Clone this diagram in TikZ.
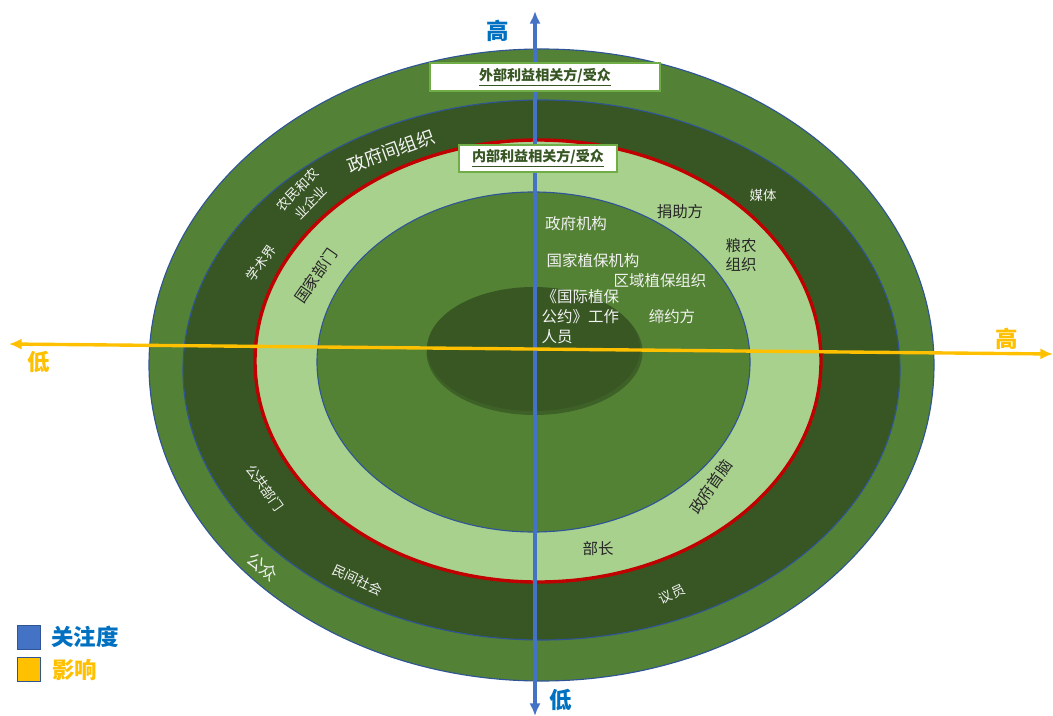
\documentclass[tikz,border=0pt]{standalone}
\usepackage{fontspec}
\setmainfont{Noto Sans CJK SC}
\newfontfamily\cjk{Noto Sans CJK SC}
\usetikzlibrary{arrows.meta}
\definecolor{gOuter}{HTML}{538135}
\definecolor{gDark}{HTML}{375623}
\definecolor{gLight}{HTML}{A9D18E}
\definecolor{gMid}{HTML}{548235}
\definecolor{gCore}{HTML}{385723}
\definecolor{rimBlue}{HTML}{2F5597}
\definecolor{rimRed}{HTML}{C00000}
\definecolor{axBlue}{HTML}{4472C4}
\definecolor{axYellow}{HTML}{FFC000}
\definecolor{txBlue}{HTML}{0070C0}
\definecolor{txLight}{HTML}{F2F2F2}
\definecolor{txDark}{HTML}{262626}
\definecolor{boxGreen}{HTML}{70AD47}
\tikzset{
  lbl/.style={font=\cjk\fontsize{11}{14}\selectfont, text=txLight, inner sep=1pt, align=center},
  lbls/.style={font=\cjk\fontsize{9.5}{13}\selectfont, text=txLight, inner sep=1pt, align=center},
  dlbl/.style={font=\cjk\fontsize{11}{14}\selectfont, text=txDark, inner sep=1pt, align=center},
  hdrbox/.style={draw=boxGreen, line width=0.8pt, fill=white, text=gDark, font=\cjk\bfseries\fontsize{10}{12}\selectfont, inner sep=0pt},
  axlbl/.style={font=\cjk\bfseries\fontsize{16}{18}\selectfont, inner sep=0pt},
  legbox/.style={draw=rimBlue, line width=0.6pt, minimum width=16pt, minimum height=17pt, inner sep=0pt},
}
\begin{document}
\begin{tikzpicture}[x=0.025cm,y=-0.025cm]
\useasboundingbox (0,0) rectangle (1053,716);
% rings
\draw[rimBlue, line width=0.8pt, fill=gOuter] (541.5,365) ellipse [x radius=392.5, y radius=316];
\draw[rimBlue, line width=0.8pt, fill=gDark] (541.5,370) ellipse [x radius=358.5, y radius=270];
\draw[rimRed, line width=2.4pt, fill=gLight] (538,361) ellipse [x radius=283, y radius=221];
\draw[rimBlue, line width=0.8pt, fill=gMid] (533.5,362) ellipse [x radius=216.5, y radius=170];
% core with shadow
\fill[black, opacity=0.25] (534.5,352) ellipse [x radius=108, y radius=63];
\fill[gCore] (533.5,349) ellipse [x radius=106.5, y radius=62];
% axes
\coordinate (vTop) at (535,11);
\coordinate (vBot) at (535,716);
\coordinate (hL) at (9,344);
\coordinate (hR) at (1053,354);
\draw[axBlue, line width=2.4pt, {Latex[length=9pt,width=8pt]}-{Latex[length=9pt,width=8pt]}] (vTop) -- (vBot);
\draw[axYellow, line width=2.4pt, {Latex[length=9pt,width=8pt]}-{Latex[length=9pt,width=8pt]}] (hL) -- (hR);
% axis labels
\node[axlbl, text=txBlue] (aTop) at (498,31) {高};
\node[axlbl, text=txBlue] (aBot) at (561,700) {低};
\node[axlbl, text=axYellow] (aL) at (39,362) {低};
\node[axlbl, text=axYellow] (aR) at (1007,339) {高};
% header boxes
\node[hdrbox, minimum width=230*0.025cm, minimum height=28*0.025cm] (outerhdr) at (545,77) {\underline{外部利益相关方/受众}};
\node[hdrbox, minimum width=158*0.025cm, minimum height=27*0.025cm] (innerhdr) at (538,158.5) {\underline{内部利益相关方/受众}};
% outer-ring labels
\node[lbl, rotate=20, font=\cjk\fontsize{13}{15}\selectfont] (igo) at (391,151) {政府间组织};
\node[lbls, rotate=45] (farm) at (304,196) {农民和农\\业企业};
\node[lbls, rotate=55] (acad) at (261,263) {学术界};
\node[lbl, rotate=-40, font=\cjk\fontsize{12}{14}\selectfont] (public) at (263,567) {公众};
\node[lbls, rotate=-55] (pubsec) at (265,488) {公共部门};
\node[lbls, rotate=-25] (civil) at (358,580) {民间社会};
\node[lbls, rotate=25] (parl) at (672,594) {议员};
\node[lbls] (media) at (763,195) {媒体};
% light ring labels
\node[dlbl, rotate=55] (natdep) at (316,276) {国家部门};
\node[dlbl] (donor) at (680,212) {捐助方};
\node[dlbl] (fao) at (741,255) {粮农\\组织};
\node[dlbl] (minister) at (598,549) {部长};
\node[dlbl, rotate=55] (hog) at (711,487) {政府首脑};
% inner labels
\node[lbl] (gov) at (576,224) {政府机构};
\node[lbl] (nppo) at (593,261) {国家植保机构};
\node[lbl] (rppo) at (660,281) {区域植保组织};
\node[lbl, align=left, anchor=north west] (ippc) at (540,288) {《国际植保\\公约》工作\\人员};
\node[lbl] (cp) at (672,317) {缔约方};
% legend
\node[legbox, fill=axBlue] (legB) at (29,637) {};
\node[legbox, fill=axYellow] (legY) at (29,669) {};
\node[axlbl, text=txBlue, anchor=west] (legBt) at (51,637) {关注度};
\node[axlbl, text=axYellow, anchor=west] (legYt) at (52,670) {影响};
\end{tikzpicture}
\end{document}
